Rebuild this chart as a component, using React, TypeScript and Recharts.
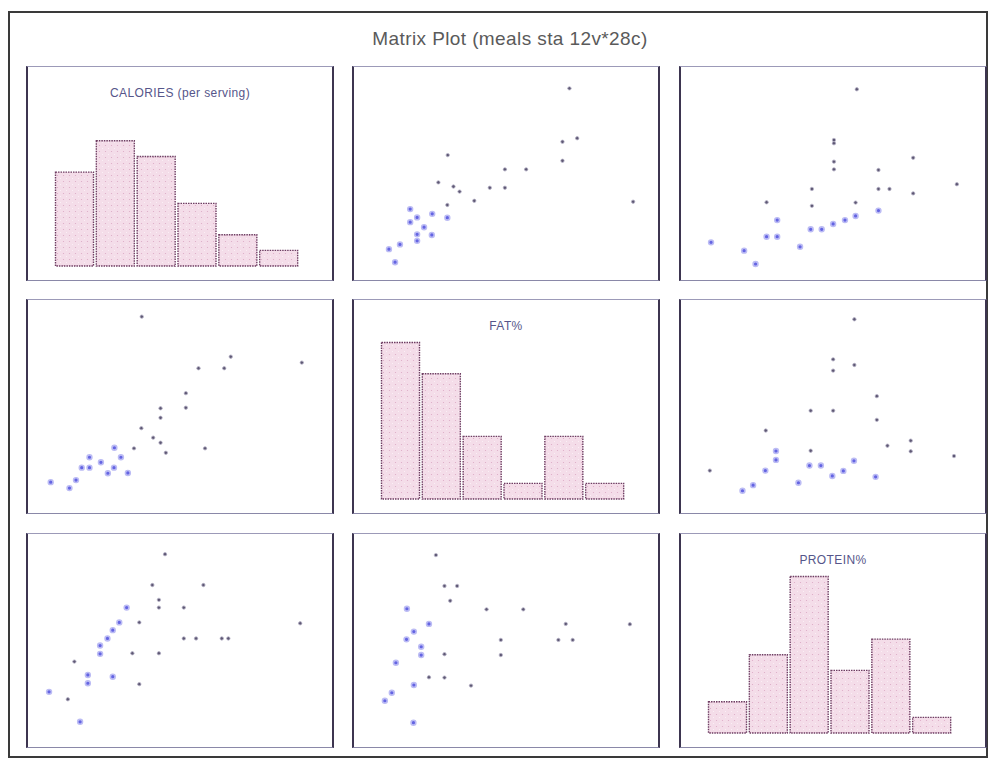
import React from 'react'
import { BarChart, Bar, ScatterChart, Scatter, XAxis, YAxis } from 'recharts'

// matrix plot of three meal variables, 28 cases
const title = 'Matrix Plot (meals sta 12v*28c)'
const varNames = ['CALORIES (per serving)', 'FAT%', 'PROTEIN%']
const varRanges: [number, number][] = [[100, 700], [0, 60], [0, 60]]

// histogram bins on the diagonal
const calorieBins = ['100-200', '200-300', '300-400', '400-500', '500-600', '600-700']
const calorieCounts = [6, 8, 7, 4, 2, 1]
const fatBins = ['0-10', '10-20', '20-30', '30-40', '40-50', '50-60']
const fatCounts = [10, 8, 4, 1, 4, 1]
const proteinBins = ['0-10', '10-20', '20-30', '30-40', '40-50', '50-60']
const proteinCounts = [2, 5, 10, 4, 6, 1]

// scatter panels: [x, y]; "Sel" = highlighted (blue) cases
const fatCal = [[45.9, 692], [44.2, 512], [47.8, 524], [44.2, 448], [16.1, 467], [30.1, 419], [35.3, 419], [13.8, 375], [17.5, 361], [19.0, 344], [26.4, 357], [30.1, 357], [22.6, 313], [61.5, 310], [16.0, 299]]
const fatCalSel = [[16.0, 256], [6.9, 285], [12.3, 269], [8.6, 257], [6.9, 241], [10.3, 224], [8.6, 200], [12.2, 198], [8.6, 178], [4.4, 166], [1.7, 150], [3.2, 106]]

const protCal = [[36.2, 689], [30.6, 518], [30.6, 507], [30.6, 445], [30.6, 419], [50.0, 458], [41.5, 417], [41.5, 353], [44.2, 353], [50.0, 338], [60.7, 369], [25.2, 353], [25.2, 296], [14.1, 308], [35.9, 307]]
const protCalSel = [[0.5, 173], [8.6, 145], [11.4, 100], [14.1, 192], [16.7, 192], [16.7, 248], [22.3, 158], [24.9, 217], [27.6, 217], [30.4, 235], [33.3, 248], [35.9, 262], [41.5, 280]]

const calFat = [[310, 60.8], [528, 47.3], [449, 43.4], [512, 43.4], [702, 45.3], [418, 35.0], [418, 30.1], [356, 29.9], [356, 26.7], [309, 23.2], [338, 20.0], [356, 18.3], [369, 14.9], [465, 16.4], [291, 16.4]]
const calFatSel = [[243, 16.6], [182, 13.4], [259, 13.4], [210, 11.7], [163, 9.9], [182, 9.9], [242, 9.9], [227, 8.0], [276, 8.1], [149, 5.7], [87, 5.0], [133, 3.0]]

const protFat = [[35.6, 59.9], [35.6, 44.5], [30.4, 46.4], [30.4, 42.6], [30.4, 29.1], [24.9, 29.1], [41.1, 34.0], [41.1, 26.0], [13.9, 22.4], [24.9, 15.6], [43.7, 17.3], [49.4, 19.0], [49.4, 15.4], [60.0, 13.8], [0.2, 8.9]]
const protFatSel = [[16.4, 15.5], [16.4, 12.5], [13.8, 8.9], [10.8, 4.0], [8.2, 2.1], [21.9, 4.8], [24.6, 10.6], [27.4, 10.6], [30.2, 7.1], [32.9, 8.8], [35.5, 12.2], [40.8, 6.8]]

const calProt = [[367, 59.6], [336, 49.2], [461, 49.2], [352, 44.2], [352, 41.6], [413, 41.6], [304, 36.6], [698, 36.3], [413, 31.2], [443, 31.2], [506, 31.2], [522, 31.2], [287, 26.2], [352, 26.2], [304, 15.8], [129, 10.7], [145, 23.4]]
const calProtSel = [[273, 41.6], [255, 36.6], [239, 34.0], [226, 31.2], [208, 28.8], [208, 26.0], [178, 18.9], [178, 16.1], [239, 18.3], [83, 13.2], [159, 3.1]]

const fatProt = [[13.2, 59.3], [15.3, 48.9], [18.4, 48.9], [16.7, 43.9], [25.6, 41.0], [34.6, 41.0], [45.0, 36.1], [60.7, 36.0], [29.1, 30.7], [43.2, 30.7], [46.7, 30.7], [29.1, 25.6], [15.3, 25.9], [21.8, 15.3], [15.3, 18.0], [11.5, 18.1]]
const fatProtSel = [[6.1, 41.2], [11.5, 36.1], [7.8, 33.5], [6.0, 30.9], [9.6, 28.4], [9.6, 25.6], [3.4, 23.0], [7.8, 15.5], [2.4, 12.9], [0.7, 10.2], [7.7, 2.8]]

const histograms = [
  { bins: calorieBins, counts: calorieCounts },
  { bins: fatBins, counts: fatCounts },
  { bins: proteinBins, counts: proteinCounts },
]

// scatters[row][col] -> x = variable col, y = variable row
const scatters: Record<string, [number[][], number[][]]> = {
  '0-1': [fatCal, fatCalSel],
  '0-2': [protCal, protCalSel],
  '1-0': [calFat, calFatSel],
  '1-2': [protFat, protFatSel],
  '2-0': [calProt, calProtSel],
  '2-1': [fatProt, fatProtSel],
}

const PANEL_W = 308
const PANEL_H = 215
const COL_X = [26, 352, 679]
const ROW_Y = [66, 299, 533]
const PLOT_L = 30
const PLOT_W = 245
const PLOT_T = 20
const PLOT_H = 178
const PAD = 0.08

const padded = ([lo, hi]: [number, number]): [number, number] => [lo - PAD * (hi - lo), hi + PAD * (hi - lo)]

const scatterMargin = {
  left: PLOT_L - PAD * PLOT_W,
  right: PANEL_W - PLOT_L - PLOT_W - PAD * PLOT_W,
  top: PLOT_T - PAD * PLOT_H,
  bottom: PANEL_H - PLOT_T - PLOT_H - PAD * PLOT_H,
}

const toXY = (pts: number[][]) => pts.map(([x, y]) => ({ x, y }))

const GrayDot = (p: any) => (
  <circle cx={p.cx} cy={p.cy} r={1.7} fill="#5e5874" stroke="#b8b4c8" strokeWidth={0.8} />
)
const BlueDot = (p: any) => (
  <circle cx={p.cx} cy={p.cy} r={2.4} fill="#6464e2" stroke="#bcbcf4" strokeWidth={1.6} />
)

function ScatterPanel({ row, col }: { row: number; col: number }) {
  const [rest, sel] = scatters[`${row}-${col}`]
  return (
    <ScatterChart width={PANEL_W} height={PANEL_H} margin={scatterMargin}>
      <XAxis type="number" dataKey="x" domain={padded(varRanges[col])} hide />
      <YAxis type="number" dataKey="y" domain={padded(varRanges[row])} hide />
      <Scatter data={toXY(rest)} shape={GrayDot} isAnimationActive={false} />
      <Scatter data={toXY(sel)} shape={BlueDot} isAnimationActive={false} />
    </ScatterChart>
  )
}

function HistPanel({ idx }: { idx: number }) {
  const h = histograms[idx]
  const data = h.bins.map((bin, i) => ({ bin, count: h.counts[i] }))
  return (
    <>
      <BarChart
        width={PANEL_W}
        height={PANEL_H}
        data={data}
        margin={{ top: 20, right: PANEL_W - PLOT_L - PLOT_W + 2, left: PLOT_L - 2, bottom: 15 }}
        barCategoryGap={1.5}
      >
        <XAxis dataKey="bin" hide />
        <YAxis type="number" domain={[0, 11.5]} hide />
        <Bar
          dataKey="count"
          fill="url(#histFill)"
          stroke="#6e3d62"
          strokeWidth={1.4}
          strokeDasharray="1.5 1"
          isAnimationActive={false}
        />
      </BarChart>
      <div
        style={{
          position: 'absolute',
          left: 0,
          top: 20,
          width: PANEL_W,
          textAlign: 'center',
          fontFamily: '"Liberation Sans", Arial, sans-serif',
          fontSize: 12,
          letterSpacing: 0.4,
          color: '#56568a',
        }}
      >
        {varNames[idx]}
      </div>
    </>
  )
}

export default function App() {
  return (
    <div style={{ position: 'absolute', left: 0, top: 0, width: 990, height: 762, background: '#fff' }}>
      <svg width={0} height={0} style={{ position: 'absolute' }}>
        <defs>
          <pattern id="histFill" patternUnits="userSpaceOnUse" width={6} height={6}>
            <rect width={6} height={6} fill="#f4dde9" />
            <circle cx={1.5} cy={1.5} r={0.6} fill="#dcaac5" />
            <circle cx={4.5} cy={4.5} r={0.6} fill="#fcf3f8" />
          </pattern>
        </defs>
      </svg>
      <div
        style={{
          position: 'absolute',
          left: 8,
          top: 11,
          width: 980,
          height: 747,
          border: '2px solid #3a3a3a',
          boxSizing: 'border-box',
        }}
      />
      <div
        style={{
          position: 'absolute',
          left: 0,
          top: 28,
          width: 1020,
          textAlign: 'center',
          fontFamily: '"Liberation Sans", Arial, sans-serif',
          fontSize: 19,
          letterSpacing: 0.4,
          color: '#5a5a5a',
        }}
      >
        {title}
      </div>
      {ROW_Y.map((top, row) =>
        COL_X.map((left, col) => (
          <div
            key={`${row}-${col}`}
            style={{ position: 'absolute', left, top, width: PANEL_W, height: PANEL_H }}
          >
            {row === col ? <HistPanel idx={row} /> : <ScatterPanel row={row} col={col} />}
            <div
              style={{
                position: 'absolute',
                left: 0,
                top: 0,
                width: PANEL_W,
                height: PANEL_H,
                boxSizing: 'border-box',
                borderLeft: '2px solid #3d3550',
                borderRight: '2px solid #3d3550',
                borderTop: '1px solid #9c9ab8',
                borderBottom: '1px solid #8a88a8',
                pointerEvents: 'none',
              }}
            />
          </div>
        ))
      )}
    </div>
  )
}
